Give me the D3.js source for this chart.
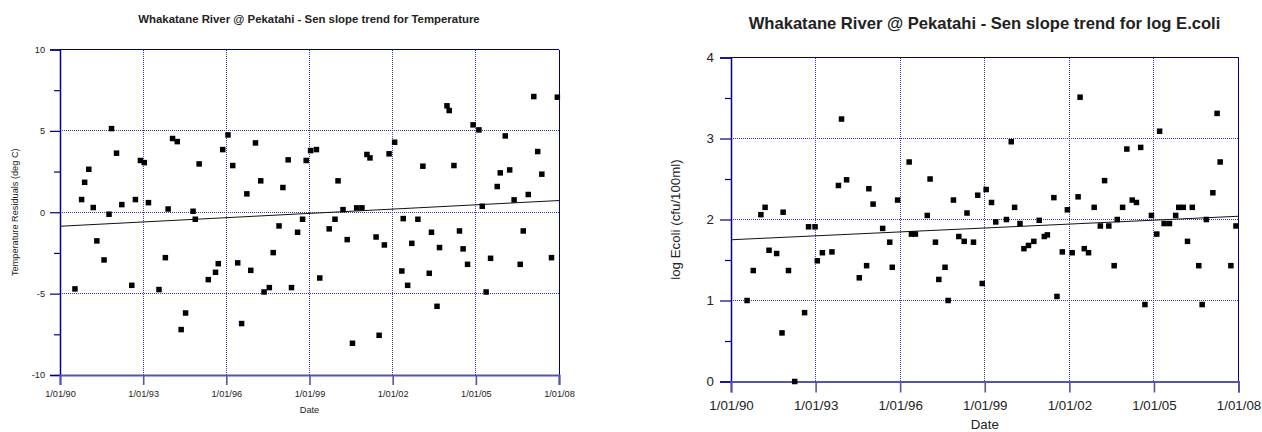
<!DOCTYPE html>
<html>
<head>
<meta charset="utf-8">
<script src="https://cdn.jsdelivr.net/npm/d3@7"></script>
<style>
  html, body { margin: 0; padding: 0; background: #ffffff; }
  svg { display: block; font-family: "Liberation Sans", Arial, Helvetica, sans-serif; }
</style>
</head>
<body>
<svg id="chart" width="1262" height="432"></svg>
<script>
// ---------------- DATA ----------------
const xTickYears = [1990, 1993, 1996, 1999, 2002, 2005, 2008];
const xTickLabels = ["1/01/90", "1/01/93", "1/01/96", "1/01/99", "1/01/02", "1/01/05", "1/01/08"];

const tempTitle = "Whakatane River @ Pekatahi - Sen slope trend for Temperature";
const tempYLabel = "Temperature Residuals (deg C)";
const tempYTicks = [-10, -5, 0, 5, 10];
const tempYTickLabels = ["-10", "-5", "0", "5", "10"];
const tempYMinorTicks = [-7.5, -2.5, 2.5, 7.5];
const tempDates = [
  1990.54,1990.78,1990.89,1991.04,1991.20,1991.33,1991.59,1991.77,1991.86,1992.04,
  1992.23,1992.59,1992.72,1992.90,1993.04,1993.19,1993.57,1993.80,1993.90,1994.06,
  1994.23,1994.37,1994.53,1994.80,1994.88,1995.02,1995.35,1995.61,1995.71,1995.87,
  1996.06,1996.23,1996.41,1996.55,1996.74,1996.88,1997.05,1997.24,1997.36,1997.55,
  1997.69,1997.90,1998.04,1998.23,1998.35,1998.57,1998.75,1998.88,1999.04,1999.25,
  1999.37,1999.71,1999.92,2000.03,2000.21,2000.36,2000.55,2000.70,2000.89,2001.07,
  2001.18,2001.40,2001.51,2001.70,2001.87,2002.07,2002.33,2002.38,2002.54,2002.69,
  2002.91,2003.09,2003.32,2003.40,2003.60,2003.69,2003.96,2004.04,2004.21,2004.41,
  2004.54,2004.70,2004.90,2005.11,2005.23,2005.37,2005.53,2005.77,2005.88,2006.06,
  2006.22,2006.38,2006.60,2006.71,2006.89,2007.09,2007.23,2007.38,2007.73,2007.94
];
const tempValues = [
  -4.71,0.78,1.84,2.64,0.29,-1.76,-2.93,-0.12,5.14,3.63,
  0.47,-4.49,0.78,3.18,3.05,0.59,-4.75,-2.79,0.20,4.53,
  4.34,-7.21,-6.19,0.06,-0.43,2.97,-4.14,-3.69,-3.16,3.85,
  4.75,2.87,-3.11,-6.84,1.13,-3.57,4.26,1.93,-4.90,-4.63,
  -2.48,-0.84,1.52,3.22,-4.63,-1.23,-0.43,3.18,3.79,3.85,
  -4.04,-1.02,-0.43,1.93,0.16,-1.68,-8.05,0.27,0.27,3.55,
  3.34,-1.52,-7.56,-2.01,3.59,4.30,-3.61,-0.39,-4.49,-1.91,
  -0.43,2.83,-3.75,-1.23,-5.78,-2.17,6.54,6.25,2.87,-1.15,
  -2.25,-3.20,5.37,5.06,0.37,-4.90,-2.83,1.58,2.42,4.69,
  2.60,0.76,-3.20,-1.15,1.09,7.11,3.73,2.34,-2.79,7.07
];
const tempTrendYears = [1990, 2008];
const tempTrendValues = [-0.86, 0.72];

const ecoliTitle = "Whakatane River @ Pekatahi - Sen slope trend for log E.coli";
const ecoliYLabel = "log Ecoli (cfu/100ml)";
const ecoliYTicks = [0, 1, 2, 3, 4];
const ecoliYTickLabels = ["0", "1", "2", "3", "4"];
const ecoliYMinorTicks = [0.5, 1.5, 2.5, 3.5];
const ecoliDates = [
  1990.57,1990.79,1991.06,1991.21,1991.35,1991.62,1991.81,1991.85,1992.04,1992.26,
  1992.61,1992.75,1992.98,1993.06,1993.24,1993.58,1993.81,1993.92,1994.10,1994.55,
  1994.81,1994.89,1995.04,1995.38,1995.63,1995.72,1995.91,1996.32,1996.40,1996.54,
  1996.96,1997.06,1997.25,1997.37,1997.59,1997.70,1997.89,1998.08,1998.27,1998.37,
  1998.60,1998.75,1998.91,1999.05,1999.24,1999.39,1999.77,1999.94,2000.06,2000.25,
  2000.39,2000.55,2000.74,2000.93,2001.11,2001.22,2001.45,2001.56,2001.75,2001.93,
  2002.10,2002.31,2002.38,2002.53,2002.68,2002.88,2003.10,2003.25,2003.40,2003.59,
  2003.70,2003.89,2004.04,2004.23,2004.38,2004.53,2004.68,2004.91,2005.10,2005.20,
  2005.36,2005.55,2005.77,2005.88,2006.04,2006.19,2006.36,2006.59,2006.71,2006.86,
  2007.09,2007.24,2007.35,2007.73,2007.91
];
const ecoliValues = [
  1.00,1.37,2.06,2.15,1.62,1.58,0.60,2.09,1.37,0.00,
  0.85,1.91,1.91,1.49,1.59,1.60,2.42,3.24,2.49,1.28,
  1.43,2.38,2.19,1.89,1.72,1.41,2.24,2.71,1.82,1.82,
  2.05,2.50,1.72,1.26,1.41,1.00,2.24,1.79,1.73,2.08,
  1.72,2.30,1.21,2.37,2.21,1.97,2.00,2.96,2.15,1.95,
  1.64,1.68,1.73,1.99,1.79,1.81,2.27,1.05,1.60,2.12,
  1.59,2.28,3.51,1.64,1.59,2.15,1.92,2.48,1.92,1.43,
  2.00,2.15,2.87,2.24,2.21,2.89,0.95,2.05,1.82,3.09,
  1.95,1.95,2.05,2.15,2.15,1.73,2.15,1.43,0.95,2.00,
  2.33,3.31,2.71,1.43,1.92
];
const ecoliTrendYears = [1990, 2008];
const ecoliTrendValues = [1.75, 2.04];

const xLabel = "Date";

// ---------------- DRAWING ----------------
function yearToDate(y) {
  const yr = Math.floor(y);
  const start = Date.UTC(yr, 0, 1), end = Date.UTC(yr + 1, 0, 1);
  return new Date(start + (y - yr) * (end - start));
}

const svg = d3.select("#chart");

function drawChart(cfg) {
  const g = svg.append("g");
  const x = d3.scaleUtc()
    .domain([yearToDate(xTickYears[0]), yearToDate(xTickYears[xTickYears.length - 1])])
    .range([cfg.left, cfg.right]);
  const y = d3.scaleLinear()
    .domain([cfg.yTicks[0], cfg.yTicks[cfg.yTicks.length - 1]])
    .range([cfg.bottom, cfg.top]);

  const gridColor = "#3b3bb0";
  const axisColor = "#000080";

  // grid lines
  g.append("g").selectAll("line.hg")
    .data(cfg.yTicks.slice(1, -1))
    .join("line")
    .attr("x1", cfg.left).attr("x2", cfg.right)
    .attr("y1", d => y(d)).attr("y2", d => y(d))
    .attr("stroke", gridColor).attr("stroke-width", 1)
    .attr("stroke-dasharray", "1,1").attr("shape-rendering", "crispEdges");
  g.append("g").selectAll("line.vg")
    .data(xTickYears.slice(1, -1))
    .join("line")
    .attr("x1", d => x(yearToDate(d))).attr("x2", d => x(yearToDate(d)))
    .attr("y1", cfg.top).attr("y2", cfg.bottom)
    .attr("stroke", gridColor).attr("stroke-width", 1)
    .attr("stroke-dasharray", "1,1").attr("shape-rendering", "crispEdges");

  // frame (top + right)
  g.append("line").attr("x1", cfg.left).attr("x2", cfg.right).attr("y1", cfg.top).attr("y2", cfg.top)
    .attr("stroke", axisColor).attr("stroke-width", 1).attr("shape-rendering", "crispEdges");
  g.append("line").attr("x1", cfg.right).attr("x2", cfg.right).attr("y1", cfg.top).attr("y2", cfg.bottom)
    .attr("stroke", axisColor).attr("stroke-width", 1).attr("shape-rendering", "crispEdges");

  // y axis (left)
  const yAxis = d3.axisLeft(y)
    .tickValues(cfg.yTicks)
    .tickFormat((d, i) => cfg.yTickLabels[i])
    .tickSize(cfg.majorTick)
    .tickPadding(cfg.yPad);
  const ya = g.append("g").attr("transform", `translate(${cfg.left},0)`).call(yAxis);
  ya.select(".domain").attr("stroke", axisColor).attr("stroke-width", 1.5);
  ya.selectAll(".tick line").attr("stroke", axisColor).attr("stroke-width", 1.2);
  ya.selectAll(".tick text").attr("fill", "#222").attr("font-size", cfg.tickFont)
    .attr("font-family", "Liberation Sans, Arial, sans-serif");

  // minor y ticks
  const yMinor = d3.axisLeft(y).tickValues(cfg.yMinor).tickFormat("").tickSize(cfg.minorTick);
  const ym = g.append("g").attr("transform", `translate(${cfg.left},0)`).call(yMinor);
  ym.select(".domain").remove();
  ym.selectAll(".tick line").attr("stroke", axisColor).attr("stroke-width", 1.2);

  // x axis (bottom)
  const xAxis = d3.axisBottom(x)
    .tickValues(xTickYears.map(yearToDate))
    .tickFormat((d, i) => xTickLabels[i])
    .tickSize(cfg.majorTick)
    .tickPadding(cfg.xPad);
  const xa = g.append("g").attr("transform", `translate(0,${cfg.bottom})`).call(xAxis);
  xa.select(".domain").attr("stroke", "#5555aa").attr("stroke-width", 2);
  xa.selectAll(".tick line").attr("stroke", "#5555aa").attr("stroke-width", 1.6);
  xa.selectAll(".tick text").attr("fill", "#222").attr("font-size", cfg.tickFont)
    .attr("font-family", "Liberation Sans, Arial, sans-serif");

  // trend line
  const line = d3.line().x(d => x(yearToDate(d[0]))).y(d => y(d[1]));
  g.append("path")
    .datum(cfg.trendYears.map((t, i) => [t, cfg.trendValues[i]]))
    .attr("d", line).attr("fill", "none").attr("stroke", "#111").attr("stroke-width", 1);

  // points
  const pts = cfg.dates.map((d, i) => ({ t: d, v: cfg.values[i] }));
  const s = cfg.markerSize;
  g.append("g").selectAll("rect")
    .data(pts)
    .join("rect")
    .attr("x", d => x(yearToDate(d.t)) - s / 2)
    .attr("y", d => y(d.v) - s / 2)
    .attr("width", s).attr("height", s)
    .attr("fill", "#000");

  // title
  g.append("text")
    .attr("x", cfg.titleX).attr("y", cfg.titleY)
    .attr("text-anchor", "middle").attr("font-weight", "bold")
    .attr("font-size", cfg.titleFont).attr("fill", "#222")
    .text(cfg.title);

  // x label
  g.append("text")
    .attr("x", (cfg.left + cfg.right) / 2).attr("y", cfg.xLabelY)
    .attr("text-anchor", "middle").attr("font-size", cfg.labelFont).attr("fill", "#222")
    .text(xLabel);

  // y label
  g.append("text")
    .attr("transform", `translate(${cfg.yLabelX},${(cfg.top + cfg.bottom) / 2}) rotate(-90)`)
    .attr("text-anchor", "middle").attr("dominant-baseline", "central")
    .attr("font-size", cfg.labelFont).attr("fill", "#222")
    .text(cfg.yLabel);
}

drawChart({
  left: 60, right: 559, top: 49.5, bottom: 375,
  yTicks: tempYTicks, yTickLabels: tempYTickLabels, yMinor: tempYMinorTicks,
  dates: tempDates, values: tempValues,
  trendYears: tempTrendYears, trendValues: tempTrendValues,
  title: tempTitle, yLabel: tempYLabel,
  titleFont: 11.4, titleX: 309, titleY: 22.8, tickFont: 9.2, labelFont: 9.2,
  majorTick: 10, minorTick: 6, yPad: 5, xPad: 5,
  xLabelY: 413, yLabelX: 15, markerSize: 5.5
});

drawChart({
  left: 731, right: 1238.5, top: 57.5, bottom: 381.5,
  yTicks: ecoliYTicks, yTickLabels: ecoliYTickLabels, yMinor: ecoliYMinorTicks,
  dates: ecoliDates, values: ecoliValues,
  trendYears: ecoliTrendYears, trendValues: ecoliTrendValues,
  title: ecoliTitle, yLabel: ecoliYLabel,
  titleFont: 16.6, titleX: 984.5, titleY: 28.8, tickFont: 13.3, labelFont: 13.3,
  majorTick: 11, minorTick: 6, yPad: 6, xPad: 8,
  xLabelY: 428.5, yLabelX: 675, markerSize: 5.5
});
</script>
</body>
</html>
